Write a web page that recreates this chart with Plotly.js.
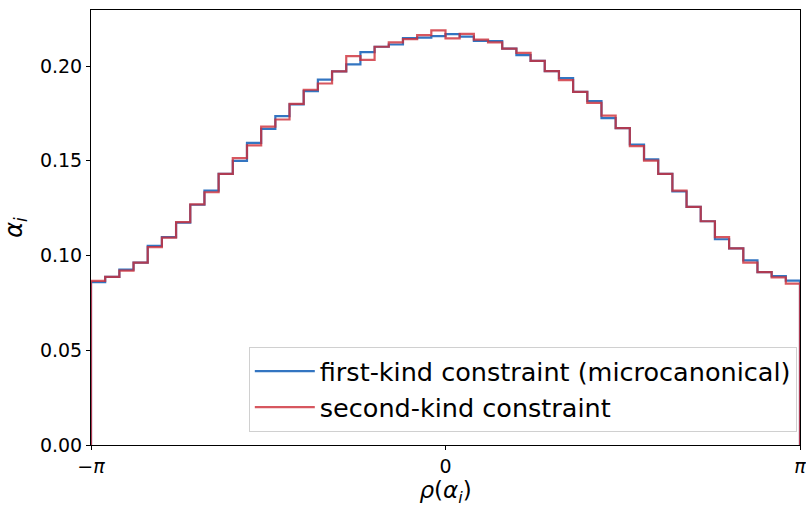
<!DOCTYPE html>
<html>
<head>
<meta charset="utf-8">
<script src="https://cdn.plot.ly/plotly-3.0.1.min.js"></script>
<style>html,body{margin:0;padding:0;background:#fff;}#chart{width:806px;height:507px;}</style>
</head>
<body>
<div id="chart"></div>
<script>
// 50 equal bins over [-pi, pi]
const nBins = 50;
const xMin = -Math.PI;
const xMax = Math.PI;

// bin heights
const firstKind = [0.0859,0.0887,0.0926,0.0963,0.1051,0.1097,0.1174,0.1268,0.1343,0.1431,
  0.1500,0.1595,0.1669,0.1736,0.1798,0.1868,0.1929,0.1972,0.2009,0.2074,
  0.2102,0.2114,0.2148,0.2150,0.2158,0.2169,0.2155,0.2133,0.2132,0.2092,
  0.2058,0.2028,0.1973,0.1936,0.1864,0.1815,0.1725,0.1672,0.1586,0.1508,
  0.1431,0.1338,0.1257,0.1181,0.1086,0.1038,0.0975,0.0912,0.0891,0.0868];
const secondKind = [0.0866,0.0887,0.0920,0.0963,0.1044,0.1095,0.1176,0.1270,0.1334,0.1431,
  0.1514,0.1581,0.1680,0.1718,0.1801,0.1875,0.1908,0.1972,0.2053,0.2033,
  0.2102,0.2125,0.2142,0.2163,0.2188,0.2146,0.2170,0.2140,0.2125,0.2092,
  0.2070,0.2028,0.1973,0.1926,0.1864,0.1806,0.1739,0.1672,0.1577,0.1501,
  0.1431,0.1343,0.1257,0.1181,0.1097,0.1038,0.0963,0.0912,0.0885,0.0852];

const seriesNames = ["first-kind constraint (microcanonical)", "second-kind constraint"];
const xTickVals = [-Math.PI, 0, Math.PI];
const xTickText = ["\u2212<i>\u03c0</i>", "0", "<i>\u03c0</i>"];
const yTickVals = [0, 0.05, 0.10, 0.15, 0.20];

function stepOutline(vals) {
  const w = (xMax - xMin) / nBins;
  const xs = [xMin], ys = [0];
  for (let i = 0; i < vals.length; i++) { xs.push(xMin + i * w); ys.push(vals[i]); }
  xs.push(xMax); ys.push(vals[vals.length - 1]);
  xs.push(xMax); ys.push(0);
  return {xs, ys};
}

const a = stepOutline(firstKind);
const b = stepOutline(secondKind);

const traces = [
  {x: a.xs, y: a.ys, type: 'scatter', mode: 'lines', name: seriesNames[0],
   line: {shape: 'hv', color: 'rgba(40,110,190,0.95)', width: 2.2}},
  {x: b.xs, y: b.ys, type: 'scatter', mode: 'lines', name: seriesNames[1],
   line: {shape: 'hv', color: 'rgba(205,45,55,0.8)', width: 2.2}}
];

const layout = {
  width: 806, height: 507,
  margin: {l: 91, r: 6, t: 10, b: 62},
  paper_bgcolor: '#fff', plot_bgcolor: '#fff',
  font: {family: 'DejaVu Sans', color: '#000'},
  showlegend: true,
  legend: {x: 0.9955, y: 0.03, xanchor: 'right', yanchor: 'bottom',
    bgcolor: 'rgba(255,255,255,0.85)', bordercolor: '#d0d0d0', borderwidth: 1,
    font: {size: 25.5, family: 'DejaVu Sans'}, itemwidth: 60},
  xaxis: {range: [xMin, xMax], tickvals: xTickVals, ticktext: xTickText,
    ticklabeloverflow: 'allow',
    showgrid: false, zeroline: false, showline: true, mirror: true,
    linecolor: '#000', linewidth: 1, ticks: 'outside', ticklen: 4, tickcolor: '#000',
    tickfont: {size: 19}, title: {text: '<i>\u03c1</i>(<i>\u03b1<sub>i</sub></i>)', font: {size: 23}, standoff: 6}},
  yaxis: {range: [0, 0.2296], tickvals: yTickVals, tickformat: '.2f',
    showgrid: false, zeroline: false, showline: true, mirror: true,
    linecolor: '#000', linewidth: 1, ticks: 'outside', ticklen: 4, tickcolor: '#000',
    tickfont: {size: 19}, title: {text: '<i>\u03b1<sub>i</sub></i>', font: {size: 24}, standoff: 10}}
};

Plotly.newPlot('chart', traces, layout, {displayModeBar: false, staticPlot: true});
</script>
</body>
</html>
